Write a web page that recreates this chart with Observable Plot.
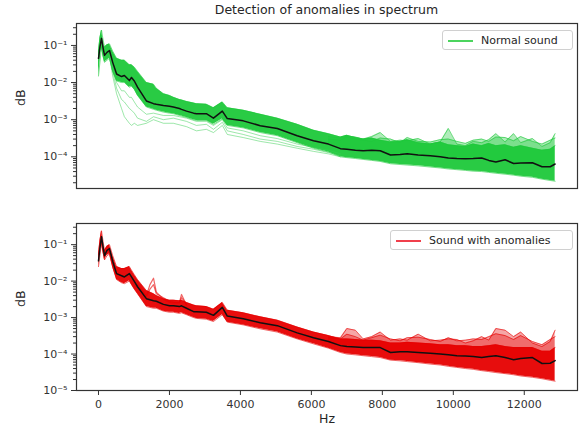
<!DOCTYPE html>
<html>
<head>
<meta charset="utf-8">
<script src="https://cdn.jsdelivr.net/npm/d3@7"></script>
<script src="https://cdn.jsdelivr.net/npm/@observablehq/plot@0.6"></script>
<style>
  body { margin: 0; background: #fff; font-family: "DejaVu Sans", sans-serif; }
  #wrap { position: relative; width: 585px; height: 429px; }
  #title { position: absolute; left: 76px; width: 501px; top: 2px; text-align: center; font-size: 12.5px; color: #262626; }
  #p1 { position: absolute; left: 0; top: 20px; }
  #p2 { position: absolute; left: 0; top: 203px; }
  .leg { position: absolute; height: 20px; border: 1px solid #d0d0d0; border-radius: 3px; background: rgba(255,255,255,0.85); font-size: 11px; color: #262626; box-sizing: border-box; }
  .leg .sw { position: absolute; left: 5px; top: 9px; width: 25px; height: 0; border-top: 2px solid; }
  .leg .tx { position: absolute; left: 38px; top: 3px; white-space: nowrap; }
</style>
</head>
<body>
<div id="wrap">
  <div id="title">Detection of anomalies in spectrum</div>
  <div id="p1"></div>
  <div id="p2"></div>
  <div class="leg" style="left:442px; top:30px; width:131px;"><div class="sw" style="border-color:#4cd45e"></div><div class="tx">Normal sound</div></div>
  <div class="leg" style="left:390px; top:230px; width:183px;"><div class="sw" style="border-color:#f0404c"></div><div class="tx">Sound with anomalies</div></div>
</div>
<script>
// ---- data ----
const hz = [0,40,85,130,170,240,310,400,510,650,730,870,930,1010,1100,1350,1550,1630,1830,2000,2110,2280,2340,2480,2680,2760,3040,3240,3490,3630,4080,4560,5040,5600,6060,6480,6820,7000,7240,7460,7700,7940,8230,8500,8700,9010,9350,9630,9860,10100,10340,10560,10800,11000,11200,11460,11700,11900,12230,12500,12730,12870];

const normalMean = [4.5e-2,9e-2,1.55e-1,8.5e-2,5.4e-2,6.5e-2,7.3e-2,3.5e-2,1.7e-2,1.45e-2,1.55e-2,1.13e-2,1.37e-2,1.1e-2,7.5e-3,3.2e-3,2.7e-3,2.6e-3,2.4e-3,2.3e-3,2.2e-3,2.0e-3,1.9e-3,1.7e-3,1.5e-3,1.45e-3,1.45e-3,1.1e-3,1.7e-3,1.07e-3,9.3e-4,6.9e-4,5.8e-4,3.7e-4,2.7e-4,2.2e-4,1.66e-4,1.6e-4,1.5e-4,1.45e-4,1.5e-4,1.45e-4,1.12e-4,1.15e-4,1.2e-4,1.12e-4,1.07e-4,1.0e-4,9.3e-5,9.0e-5,8.9e-5,9.0e-5,9.3e-5,8.0e-5,7.2e-5,8.3e-5,6.6e-5,6.8e-5,6.9e-5,5.4e-5,5.4e-5,6.4e-5];
const normalUpper = [7e-2,1.6e-1,2.6e-1,1.4e-1,9e-2,1.05e-1,1.1e-1,7e-2,4.5e-2,4e-2,4e-2,3e-2,3e-2,2.6e-2,2e-2,1e-2,9e-3,7e-3,5e-3,4.5e-3,4e-3,3.5e-3,3.4e-3,3.1e-3,2.8e-3,2.7e-3,2.6e-3,2.1e-3,3e-3,2.1e-3,1.8e-3,1.4e-3,1.1e-3,7.5e-4,5.2e-4,4.2e-4,3.4e-4,3.8e-4,3.3e-4,3.0e-4,3.2e-4,2.8e-4,2.5e-4,2.6e-4,2.9e-4,2.4e-4,2.2e-4,2.5e-4,2.1e-4,2.0e-4,1.9e-4,2.2e-4,2.0e-4,2.3e-4,2.0e-4,2.1e-4,1.8e-4,2.0e-4,1.7e-4,1.5e-4,1.6e-4,2.0e-4];
const normalLower = [1.5e-2,3.5e-2,9e-2,5e-2,3.5e-2,4e-2,4.5e-2,2e-2,1.1e-2,1e-2,1e-2,7.5e-3,8e-3,6.5e-3,4.5e-3,2.2e-3,1.9e-3,1.8e-3,1.6e-3,1.5e-3,1.45e-3,1.3e-3,1.25e-3,1.15e-3,1.0e-3,9.5e-4,9.5e-4,7.5e-4,1.05e-3,7e-4,6e-4,4.5e-4,3.7e-4,2.4e-4,1.7e-4,1.35e-4,1.0e-4,9.5e-5,9e-5,8.5e-5,8e-5,7.5e-5,6.5e-5,6.2e-5,6e-5,5.7e-5,5.3e-5,5e-5,4.7e-5,4.5e-5,4.3e-5,4.1e-5,4e-5,3.8e-5,3.6e-5,3.4e-5,3.2e-5,3.0e-5,2.8e-5,2.5e-5,2.3e-5,2.2e-5];

const faintHz = [310,400,510,650,730,870,930,1010,1100,1350,1550,1830,2110,2480,2760,3040,3240,3490,3630,4080,4560,5040,5600,6060,6480,6820];
const normalFaint1 = [5e-2,1.5e-2,5e-3,2e-3,1.2e-3,8e-4,7e-4,8e-4,7e-4,8e-4,1.0e-3,8e-4,8e-4,6.5e-4,5e-4,5.5e-4,4.5e-4,7e-4,4e-4,3.3e-4,2.6e-4,2.2e-4,1.7e-4,1.4e-4,1.2e-4,1.0e-4];
const normalFaint2 = [6e-2,2e-2,7e-3,3.5e-3,3e-3,2e-3,1.8e-3,1.5e-3,1.1e-3,9e-4,1.2e-3,1.0e-3,1.1e-3,9e-4,7e-4,7.5e-4,5.5e-4,8.5e-4,5e-4,4e-4,3e-4,2.6e-4,1.9e-4,1.6e-4,1.3e-4,1.1e-4];
const normalFaint3 = [7e-2,2.5e-2,1e-2,6e-3,6e-3,4e-3,4e-3,3e-3,2.2e-3,1.4e-3,1.5e-3,1.3e-3,1.3e-3,1.1e-3,9e-4,9e-4,7e-4,1.0e-3,6e-4,5e-4,3.7e-4,3.1e-4,2.2e-4,1.8e-4,1.5e-4,1.2e-4];

const spikeHz = [6480,6820,7000,7240,7460,7700,7940,8230,8500,8700,9010,9350,9630,9860,10100,10340,10560,10800,11000,11200,11460,11700,11900,12230,12500,12730,12870];
const normalSpikeA = [3.5e-4,3.2e-4,3.6e-4,3.4e-4,3.0e-4,3.5e-4,4.5e-4,2.6e-4,2.8e-4,2.7e-4,3.1e-4,2.2e-4,2.5e-4,5.8e-4,2.2e-4,2.0e-4,2.6e-4,2.4e-4,2.9e-4,4.2e-4,2.5e-4,4.2e-4,2.4e-4,3.1e-4,1.9e-4,2.4e-4,4.2e-4];
const normalSpikeB = [3.0e-4,2.8e-4,3.4e-4,3.0e-4,2.8e-4,2.6e-4,3.2e-4,3.0e-4,2.4e-4,3.3e-4,2.6e-4,2.5e-4,2.9e-4,3.0e-4,2.6e-4,2.3e-4,2.8e-4,3.0e-4,2.6e-4,3.4e-4,3.3e-4,2.7e-4,3.5e-4,2.6e-4,2.2e-4,2.8e-4,3.2e-4];

const anomMean = [3.6e-2,8e-2,1.65e-1,8.5e-2,5e-2,7e-2,7.8e-2,3.5e-2,1.6e-2,1.4e-2,1.3e-2,1.6e-2,1.3e-2,9.8e-3,7e-3,3.3e-3,2.9e-3,2.8e-3,2.3e-3,2.1e-3,2.1e-3,2.0e-3,2.1e-3,1.8e-3,1.45e-3,1.45e-3,1.4e-3,1.15e-3,1.9e-3,1.1e-3,9.3e-4,7.2e-4,6e-4,3.8e-4,2.8e-4,2.2e-4,1.7e-4,1.6e-4,1.55e-4,1.5e-4,1.5e-4,1.5e-4,1.1e-4,1.15e-4,1.15e-4,1.1e-4,1.05e-4,1.0e-4,9.5e-5,9e-5,8.8e-5,8.5e-5,8e-5,8.5e-5,9e-5,8e-5,7e-5,7.5e-5,8e-5,5.5e-5,5.6e-5,6.6e-5];
const anomUpper = [5.5e-2,1.3e-1,2.4e-1,1.2e-1,7e-2,9e-2,1e-1,5e-2,2.5e-2,2.2e-2,2.2e-2,2.5e-2,2e-2,1.5e-2,1.1e-2,5.5e-3,4.5e-3,4e-3,3.3e-3,3e-3,3e-3,2.9e-3,3.0e-3,2.6e-3,2.2e-3,2.1e-3,2.0e-3,1.7e-3,2.6e-3,1.6e-3,1.35e-3,1.05e-3,8.5e-4,5.5e-4,4e-4,3.2e-4,2.6e-4,2.6e-4,2.5e-4,2.4e-4,2.4e-4,2.3e-4,2.0e-4,2.0e-4,2.1e-4,2.0e-4,1.9e-4,1.8e-4,1.8e-4,1.7e-4,1.7e-4,1.6e-4,1.6e-4,1.7e-4,1.8e-4,1.6e-4,1.5e-4,1.5e-4,1.5e-4,1.2e-4,1.2e-4,1.5e-4];
const anomLower = [2.5e-2,5e-2,1.1e-1,6e-2,3.8e-2,5e-2,5.5e-2,2.4e-2,1.1e-2,9e-3,8.5e-3,1.0e-2,8e-3,6e-3,4.5e-3,2.0e-3,1.8e-3,1.8e-3,1.5e-3,1.4e-3,1.4e-3,1.3e-3,1.35e-3,1.2e-3,1.0e-3,9.5e-4,9e-4,7.8e-4,1.2e-3,7.5e-4,6.3e-4,4.9e-4,4e-4,2.6e-4,1.9e-4,1.45e-4,1.1e-4,1.0e-4,9.5e-5,9e-5,8.5e-5,8e-5,6.8e-5,6.5e-5,6.2e-5,5.8e-5,5.3e-5,5e-5,4.6e-5,4.3e-5,4e-5,3.8e-5,3.5e-5,3.3e-5,3.1e-5,2.9e-5,2.7e-5,2.5e-5,2.3e-5,2.1e-5,1.9e-5,1.8e-5];

const anomLowHz = [1100,1350,1450,1550,1630,1830,2000,2110,2280,2340,2480];
const anomLowA = [8e-3,4e-3,8e-3,1.2e-2,5e-3,3.2e-3,2.6e-3,2.5e-3,2.6e-3,4.3e-3,2.2e-3];
const anomLowB = [7e-3,3.8e-3,6e-3,8e-3,4.5e-3,3.5e-3,2.8e-3,2.6e-3,2.5e-3,3.5e-3,2.3e-3];
const anomSpikeA = [3e-4,2.8e-4,5e-4,4.5e-4,2.6e-4,3e-4,4e-4,2.4e-4,2.6e-4,2.4e-4,3.5e-4,2.3e-4,2.4e-4,2.6e-4,2.5e-4,2.0e-4,2.3e-4,3.0e-4,2.4e-4,5e-4,4.5e-4,3e-4,4e-4,2.0e-4,1.6e-4,2.2e-4,4.5e-4];
const anomSpikeB = [2.8e-4,2.6e-4,3.5e-4,3.0e-4,2.4e-4,2.8e-4,3.3e-4,2.6e-4,2.3e-4,2.8e-4,2.9e-4,2.5e-4,2.2e-4,2.8e-4,2.3e-4,2.4e-4,2.6e-4,2.5e-4,3.0e-4,3.6e-4,3.2e-4,2.5e-4,3.2e-4,2.2e-4,1.8e-4,2.5e-4,3.0e-4];

const xTicks = [0,2000,4000,6000,8000,10000,12000];
const topYTicks = [1e-4,1e-3,1e-2,1e-1];
const botYTicks = [1e-5,1e-4,1e-3,1e-2,1e-1];

// ---- helpers ----
const sup = {"-":"\u207B","0":"\u2070","1":"\u00B9","2":"\u00B2","3":"\u00B3","4":"\u2074","5":"\u2075","6":"\u2076"};
const fmtPow = d => "10" + String(Math.round(Math.log10(d))).split("").map(c => sup[c]).join("");
const rowsOf = (xs, cols) => xs.map((x, i) => { const r = {hz: x}; for (const k in cols) r[k] = cols[k][i]; return r; });
const minorTicks = (lo, hi) => d3.range(-6, 1).flatMap(e => d3.range(2, 10).map(k => k * Math.pow(10, e))).filter(v => v >= lo && v <= hi);
// attach the band's own mean value at each spike frequency (lookup, not computed)
const withMean = (rows, main) => { const m = new Map(main.map(r => [r.hz, r.mean])); return rows.map(r => ({...r, base: m.get(r.hz)})); };

function panel({main, faint, spikes, low, color, faintColor, yDomain, yTicks, showX, height, marginTop, marginBottom}) {
  const marks = [];
  for (const k of ["a", "b"]) marks.push(Plot.areaY(spikes, {x: "hz", y1: "base", y2: k, fill: color, fillOpacity: 0.35}));
  for (const k of ["a", "b"]) marks.push(Plot.lineY(spikes, {x: "hz", y: k, stroke: color, strokeWidth: 1, strokeOpacity: 0.6}));
  marks.push(Plot.areaY(main, {x: "hz", y1: "lower", y2: "upper", fill: color, fillOpacity: 0.95}));
  if (faint) for (const k of ["a", "b", "c"]) marks.push(Plot.lineY(faint, {x: "hz", y: k, stroke: faintColor, strokeWidth: 1, strokeOpacity: 0.5}));
  if (low) for (const k of ["a", "b"]) marks.push(Plot.lineY(low, {x: "hz", y: k, stroke: color, strokeWidth: 1.2, strokeOpacity: 0.6}));
  marks.push(Plot.lineY(main, {x: "hz", y: "upper", stroke: color, strokeWidth: 1, strokeOpacity: 0.6}));
  marks.push(Plot.lineY(main, {x: "hz", y: "lower", stroke: color, strokeWidth: 1, strokeOpacity: 0.6}));
  marks.push(Plot.lineY(main, {x: "hz", y: "mean", stroke: "#111", strokeWidth: 1.5}));
  marks.push(Plot.axisY({ticks: yTicks, tickFormat: fmtPow, tickSize: 5, tickPadding: 4, fontSize: 11, label: null}));
  marks.push(Plot.axisY({ticks: minorTicks(yDomain[0], yDomain[1]), tickFormat: () => "", tickSize: 3, label: null}));
  marks.push(Plot.text(["dB"], {frameAnchor: "left", dx: -56, rotate: -90, fontSize: 12.5, fill: "#262626"}));
  if (showX) marks.push(Plot.axisX({ticks: xTicks, tickFormat: d => String(d), tickSize: 5, tickPadding: 5, fontSize: 11, label: null}));
  if (showX) marks.push(Plot.text(["Hz"], {frameAnchor: "bottom", dy: 32, fontSize: 12.5, fill: "#262626"}));
  marks.push(Plot.frame({stroke: "#333", strokeWidth: 1.2}));
  return Plot.plot({
    width: 585, height, marginLeft: 76, marginRight: 8, marginTop, marginBottom,
    style: {fontFamily: "DejaVu Sans, sans-serif", fontSize: "11px", color: "#333", background: "transparent", overflow: "visible"},
    x: {domain: [-620, 13500], axis: null},
    y: {type: "log", domain: yDomain, axis: null},
    marks
  });
}

const topMain = rowsOf(hz, {mean: normalMean, upper: normalUpper, lower: normalLower});
const topFaint = rowsOf(faintHz, {a: normalFaint1, b: normalFaint2, c: normalFaint3});
const topSpikes = withMean(rowsOf(spikeHz, {a: normalSpikeA, b: normalSpikeB}), topMain);
const botMain = rowsOf(hz, {mean: anomMean, upper: anomUpper, lower: anomLower});
const botLow = rowsOf(anomLowHz, {a: anomLowA, b: anomLowB});
const botSpikes = withMean(rowsOf(spikeHz, {a: anomSpikeA, b: anomSpikeB}), botMain);

document.getElementById("p1").append(panel({
  main: topMain, faint: topFaint, spikes: topSpikes, color: "#1ec83a", faintColor: "#3ccf55",
  yDomain: [1.4e-5, 0.39], yTicks: topYTicks, showX: false, height: 183, marginTop: 3, marginBottom: 15
}));
document.getElementById("p2").append(panel({
  main: botMain, low: botLow, spikes: botSpikes, color: "#e60000",
  yDomain: [1e-5, 0.38], yTicks: botYTicks, showX: true, height: 226, marginTop: 20, marginBottom: 39
}));
</script>
</body>
</html>
